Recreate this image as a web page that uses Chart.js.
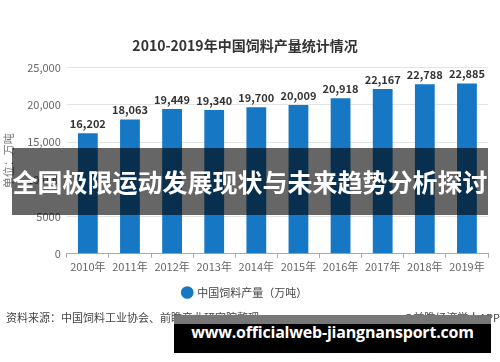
<!DOCTYPE html>
<html>
<head>
<meta charset="utf-8">
<script src="https://cdn.jsdelivr.net/npm/chart.js@4"></script>
<style>
  body { margin: 0; background: #fff; font-family: "Noto Sans CJK SC", sans-serif; }
  #wrap { position: relative; width: 500px; height: 362px; overflow: hidden; }
  #src { position: absolute; left: 6px; top: 309px; font-size: 11px; color: #444; }
  #app { position: absolute; right: 0px; top: 309px; font-size: 11px; color: #444; }
  #band { position: absolute; left: 12px; top: 148px; width: 476px; height: 67px;
          background: rgba(0,0,0,0.6); color: #fff; font-weight: bold; font-size: 25px;
          line-height: 67px; text-align: center; white-space: nowrap; }
  #url { position: absolute; left: 174px; top: 315px; width: 317px; height: 38px;
         background: linear-gradient(#777 0, #777 9px, #000 9px); color: #fff;
         font-family: "Open Sans", sans-serif; font-weight: bold; font-size: 16px;
         line-height: 34px; text-align: center; white-space: nowrap; letter-spacing: -0.2px; }
</style>
</head>
<body>
<div id="wrap">
  <canvas id="myChart" width="500" height="362"></canvas>
  <div id="src">资料来源：中国饲料工业协会、前瞻产业研究院整理</div>
  <div id="app">@前瞻经济学人APP</div>
  <div id="band">全国极限运动发展现状与未来趋势分析探讨</div>
  <div id="url">www.officialweb-jiangnansport.com</div>
</div>
<script>
const years = ['2010年', '2011年', '2012年', '2013年', '2014年', '2015年', '2016年', '2017年', '2018年', '2019年'];
const output = [16202, 18063, 19449, 19340, 19700, 20009, 20918, 22167, 22788, 22885];
const yTicks = [0, 5000, 10000, 15000, 20000, 25000];

// value labels above each bar
const barLabels = {
  id: 'barLabels',
  afterDatasetsDraw(chart) {
    const ctx = chart.ctx;
    const meta = chart.getDatasetMeta(0);
    ctx.save();
    ctx.font = 'bold 11px "Noto Sans CJK SC"';
    ctx.fillStyle = '#333';
    ctx.textAlign = 'center';
    ctx.textBaseline = 'bottom';
    meta.data.forEach((bar, i) => {
      ctx.fillText(output[i].toLocaleString('en-US'), bar.x, bar.y - 4);
    });
    ctx.restore();
  }
};

const config_feed = {
  type: 'bar',
  data: {
    labels: years,
    datasets: [{
      label: '中国饲料产量（万吨）',
      backgroundColor: '#1677c4',
      data: output,
      barPercentage: 0.47,
      categoryPercentage: 1
    }]
  },
  options: {
    responsive: false,
    animation: false,
    layout: { padding: { top: 37, left: 2, right: 12, bottom: 54 } },
    plugins: {
      title: {
        display: true,
        text: '2010-2019年中国饲料产量统计情况',
        color: '#333',
        font: { family: 'Noto Sans CJK SC', size: 14, weight: 'bold' },
        padding: { top: 0, bottom: 14 }
      },
      legend: {
        position: 'bottom',
        labels: {
          usePointStyle: true,
          pointStyle: 'circle',
          boxWidth: 9,
          boxHeight: 9,
          color: '#444',
          font: { family: 'Noto Sans CJK SC', size: 11 },
          padding: 12
        }
      },
      tooltip: { enabled: false }
    },
    scales: {
      x: {
        grid: { display: true, drawOnChartArea: false, drawTicks: true, tickLength: 4, color: '#aaa' },
        border: { color: '#aaa' },
        ticks: { color: '#666', font: { family: 'Noto Sans CJK SC', size: 11 }, padding: 2 }
      },
      y: {
        min: 0,
        max: 25000,
        afterBuildTicks: axis => { axis.ticks = yTicks.map(v => ({ value: v })); },
        grid: { color: '#e4e4e4', drawTicks: false },
        border: { display: false },
        title: {
          display: true,
          text: '单位：万吨',
          color: '#777',
          font: { family: 'Noto Sans CJK SC', size: 11 },
          padding: { top: 0, bottom: 6 }
        },
        ticks: {
          color: '#666',
          font: { family: 'Noto Sans CJK SC', size: 11 },
          padding: 6,
          callback: v => v >= 10000 ? v.toLocaleString('en-US') : String(v)
        }
      }
    }
  },
  plugins: [barLabels]
};

const myChart = new Chart(document.getElementById('myChart'), config_feed);
</script>
</body>
</html>
